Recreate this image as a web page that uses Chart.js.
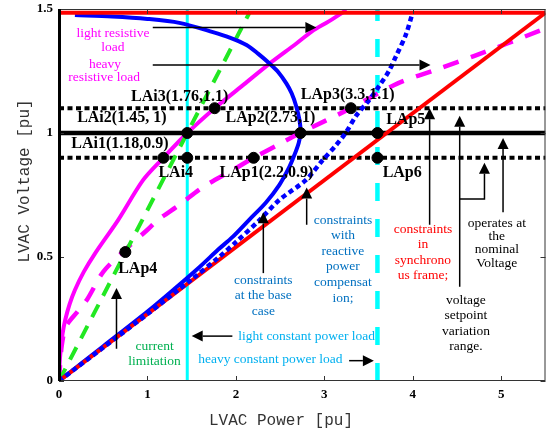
<!DOCTYPE html>
<html>
<head>
<meta charset="utf-8">
<script src="https://cdn.jsdelivr.net/npm/chart.js@4/dist/chart.umd.min.js"></script>
<style>
  html, body { margin: 0; padding: 0; background: #fff; }
</style>
</head>
<body>
<canvas id="myChart" width="552" height="435"></canvas>
<script>
// axis ticks
const xTicks = [0, 1, 2, 3, 4, 5]
const yTicks = [0, 0.5, 1, 1.5]

// blue solid: constraints at the base case (nose curve)
const baseP = [0, 0.5, 1.0, 1.3, 1.59, 1.8, 1.96, 2.15, 2.34, 2.49, 2.6, 2.66, 2.71, 2.73, 2.72, 2.68, 2.63, 2.57, 2.48, 2.38, 2.25, 2.12, 1.93, 1.74, 1.36, 1.0, 0.6, 0.18]
const baseV = [0, 0.14, 0.28, 0.37, 0.46, 0.53, 0.58, 0.65, 0.72, 0.79, 0.86, 0.91, 0.96, 1.0, 1.05, 1.11, 1.16, 1.2, 1.245, 1.28, 1.32, 1.355, 1.385, 1.407, 1.444, 1.46, 1.47, 1.476]

// blue dotted: constraints with reactive power compensation
const compP = [0, 0.5, 1.0, 1.5, 1.81, 2.0, 2.27, 2.49, 2.79, 2.98, 3.13, 3.24, 3.36, 3.5, 3.62, 3.73, 3.81, 3.92, 3.99]
const compV = [0, 0.135, 0.27, 0.41, 0.5, 0.56, 0.65, 0.73, 0.81, 0.89, 0.95, 1.0, 1.07, 1.13, 1.19, 1.25, 1.31, 1.395, 1.476]

// red: constraints in synchronous frame
const syncP = [0, 5.5]
const syncV = [0, 1.485]
const capP = [0, 5.5]
const capV = [1.485, 1.485]

// magenta solid: light resistive load
const lightResP = [0, 0.005, 0.02, 0.04, 0.07, 0.12, 0.18, 0.28, 0.41, 0.67, 0.95, 1.18, 1.45, 1.76, 2.07, 2.38, 2.68, 2.86, 3.05, 3.25]
const lightResV = [0, 0.06, 0.13, 0.19, 0.246, 0.31, 0.367, 0.44, 0.516, 0.65, 0.81, 0.9, 1.0, 1.1, 1.19, 1.28, 1.36, 1.41, 1.45, 1.496]

// magenta dashed: heavy resistive load
const heavyResP = [0, 0.03, 0.08, 0.21, 0.32, 0.5, 0.75, 1.0, 1.12, 1.36, 1.62, 1.96, 2.2, 2.49, 2.73, 3.3, 3.83, 4.3, 4.69, 5.06, 5.45]
const heavyResV = [0, 0.14, 0.22, 0.28, 0.33, 0.44, 0.53, 0.61, 0.65, 0.71, 0.78, 0.85, 0.9, 0.955, 1.0, 1.1, 1.2, 1.26, 1.31, 1.36, 1.415]

// green dashed: current limitation
const currP = [0, 1.45, 2.16]
const currV = [0, 1.0, 1.49]

// constant power loads (vertical) and voltage levels (horizontal)
const lightCPL = 1.45
const heavyCPL = 3.6
const vNominal = 1.0
const vLimits = [0.9, 1.1]

// operating points
const pointNames = ['LAi1', 'LAi2', 'LAi3', 'LAi4', 'LAp1', 'LAp2', 'LAp3', 'LAp4', 'LAp5', 'LAp6']
const pointP = [1.18, 1.45, 1.76, 1.45, 2.2, 2.73, 3.3, 0.75, 3.6, 3.6]
const pointV = [0.9, 1.0, 1.1, 0.9, 0.9, 1.0, 1.1, 0.52, 1.0, 0.9]
const pointLabels = ['LAi1(1.18,0.9)', 'LAi2(1.45, 1)', 'LAi3(1.76,1.1)', 'LAi4', 'LAp1(2.2,0.9)', 'LAp2(2.73,1)', 'LAp3(3.3,1.1)', 'LAp4', 'LAp5', 'LAp6']
const labelAt = [[0.69, 0.956], [0.71, 1.06], [1.364, 1.145], [1.32, 0.839], [2.345, 0.839], [2.39, 1.06], [3.264, 1.153], [0.89, 0.452], [3.92, 1.052], [3.88, 0.839]]

const pts = (xs, ys) => xs.map((v, i) => ({x: v, y: ys[i]}))

// arrows, in data units (last point gets the head)
const arrows = [
  [[1.06, 1.425], [2.91, 1.425]],
  [[1.06, 1.274], [4.2, 1.274]],
  [[0.65, 0.13], [0.65, 0.375]],
  [[2.31, 0.435], [2.31, 0.68]],
  [[2.8, 0.63], [2.8, 0.78]],
  [[4.19, 0.63], [4.19, 1.1]],
  [[4.53, 0.38], [4.53, 1.07]],
  [[4.53, 0.734], [4.81, 0.734], [4.81, 0.88]],
  [[5.02, 0.68], [5.02, 0.98]],
  [[1.96, 0.181], [1.5, 0.181]],
  [[3.28, 0.082], [3.56, 0.082]]
]

// text notes, centre of each line block
const notes = [
  {lines: ['light resistive'], x: 0.61, y: 1.403, color: '#ff00ff'},
  {lines: ['load'], x: 0.61, y: 1.343, color: '#ff00ff'},
  {lines: ['heavy'], x: 0.52, y: 1.278, color: '#ff00ff'},
  {lines: ['resistive load'], x: 0.51, y: 1.222, color: '#ff00ff'},
  {lines: ['current', 'limitation'], x: 1.08, y: 0.109, color: '#00b050'},
  {lines: ['light constant power load'], x: 2.8, y: 0.181, color: '#00b0f0'},
  {lines: ['heavy constant power load'], x: 2.39, y: 0.085, color: '#00b0f0'},
  {lines: ['constraints', 'at the base', 'case'], x: 2.31, y: 0.343, color: '#0070c0'},
  {lines: ['constraints', 'with', 'reactive', 'power', 'compensat', 'ion;'], x: 3.21, y: 0.492, color: '#0070c0'},
  {lines: ['constraints', 'in', 'synchrono', 'us frame;'], x: 4.115, y: 0.518, color: '#ff0000'},
  {lines: ['operates at', 'the', 'nominal', 'Voltage'], x: 4.95, y: 0.556, color: '#000', lh: 13.4},
  {lines: ['voltage', 'setpoint', 'variation', 'range.'], x: 4.6, y: 0.232, color: '#000'}
]

const line = (data, color, width, dash, tension) => ({
  data, borderColor: color, borderWidth: width, borderDash: dash || [],
  borderCapStyle: 'butt', showLine: true, pointRadius: 0, tension: tension || 0, fill: false
})

const annot = {
  id: 'annot',
  afterDatasetsDraw(chart) {
    const {ctx, chartArea: a, scales: {x, y}} = chart
    const px = v => x.getPixelForValue(v), py = v => y.getPixelForValue(v)
    ctx.save()
    // frame with inward ticks
    ctx.strokeStyle = '#333'
    ctx.lineWidth = 1
    ctx.strokeRect(a.left + 0.5, a.top + 0.5, a.right - a.left - 1, a.bottom - a.top - 1)
    ctx.beginPath()
    xTicks.forEach(t => {
      const X = Math.round(px(t)) + 0.5
      ctx.moveTo(X, a.bottom); ctx.lineTo(X, a.bottom - 5)
      ctx.moveTo(X, a.top); ctx.lineTo(X, a.top + 5)
    })
    yTicks.forEach(t => {
      const Y = Math.round(py(t)) + 0.5
      ctx.moveTo(a.left, Y); ctx.lineTo(a.left + 5, Y)
      ctx.moveTo(a.right, Y); ctx.lineTo(a.right - 5, Y)
    })
    ctx.stroke()
    ctx.fillStyle = '#000'
    ctx.fillRect(a.left - 1, a.top, 3, a.bottom - a.top)

    // arrows
    ctx.strokeStyle = '#000'
    ctx.fillStyle = '#000'
    ctx.lineWidth = 1.5
    arrows.forEach(path => {
      const p = path.map(q => [px(q[0]), py(q[1])])
      const n = p.length
      const [x1, y1] = p[n - 2], [x2, y2] = p[n - 1]
      const ang = Math.atan2(y2 - y1, x2 - x1)
      const L = 11, W = 5.5
      ctx.beginPath()
      ctx.moveTo(p[0][0], p[0][1])
      for (let i = 1; i < n - 1; i++) ctx.lineTo(p[i][0], p[i][1])
      ctx.lineTo(x2 - L * Math.cos(ang), y2 - L * Math.sin(ang))
      ctx.stroke()
      ctx.beginPath()
      ctx.moveTo(x2, y2)
      ctx.lineTo(x2 - L * Math.cos(ang) - W * Math.sin(ang), y2 - L * Math.sin(ang) + W * Math.cos(ang))
      ctx.lineTo(x2 - L * Math.cos(ang) + W * Math.sin(ang), y2 - L * Math.sin(ang) - W * Math.cos(ang))
      ctx.closePath()
      ctx.fill()
    })

    // point labels
    ctx.textAlign = 'center'
    ctx.textBaseline = 'middle'
    ctx.font = 'bold 16px "Liberation Serif"'
    ctx.fillStyle = '#000'
    pointLabels.forEach((t, i) => ctx.fillText(t, px(labelAt[i][0]), py(labelAt[i][1])))

    // notes
    ctx.font = '13.5px "Liberation Serif"'
    notes.forEach(nt => {
      ctx.fillStyle = nt.color
      const lh = nt.lh || 15.6
      const y0 = py(nt.y) - (nt.lines.length - 1) * lh / 2
      nt.lines.forEach((s, k) => ctx.fillText(s, px(nt.x), y0 + k * lh))
    })

    // axis titles
    ctx.fillStyle = '#333'
    ctx.font = '16px "Liberation Mono"'
    ctx.fillText('LVAC Power [pu]', 281, 421)
    ctx.translate(25, 181)
    ctx.rotate(-Math.PI / 2)
    ctx.fillText('LVAC Voltage [pu]', 0, 0)
    ctx.restore()
  }
}

const chartRef = document.getElementById('myChart').getContext('2d')
new Chart(chartRef, {
  type: 'scatter',
  data: {
    datasets: [
      // first listed is drawn on top
      {data: pts(pointP, pointV), backgroundColor: '#000', borderColor: '#000', pointRadius: 5.5, showLine: false},
      line(pts(compP, compV), '#0000ff', 4.5, [5, 3.5], 0.3),
      line(pts(syncP, syncV), '#ff0000', 4),
      line(pts(capP, capV), '#ff0000', 4),
      line(pts(baseP, baseV), '#0000ff', 4, null, 0.3),
      line(pts(currP, currV), '#22e822', 4, [14, 10]),
      line(pts(heavyResP, heavyResV), '#ff00ff', 4.5, [16, 13], 0.3),
      line(pts(lightResP, lightResV), '#ff00ff', 4, null, 0.3),
      line([{x: 0, y: vNominal}, {x: 5.5, y: vNominal}], '#000', 4.5),
      line([{x: 0, y: vLimits[0]}, {x: 5.5, y: vLimits[0]}], '#000', 4, [5, 3.5]),
      line([{x: 0, y: vLimits[1]}, {x: 5.5, y: vLimits[1]}], '#000', 4, [5, 3.5]),
      line([{x: heavyCPL, y: 0}, {x: heavyCPL, y: 1.5}], '#00ffff', 4.5, [18, 18]),
      line([{x: lightCPL, y: 0}, {x: lightCPL, y: 1.5}], '#00ffff', 3)
    ]
  },
  options: {
    responsive: false,
    animation: false,
    layout: {padding: {top: 9, right: 5, left: 0, bottom: 0}},
    plugins: {legend: {display: false}, tooltip: {enabled: false}},
    scales: {
      x: {
        type: 'linear', min: 0, max: 5.5,
        afterBuildTicks: s => { s.ticks = xTicks.map(v => ({value: v})) },
        afterFit: s => { s.height = 54; s.paddingLeft = 0; s.paddingRight = 0 },
        grid: {display: false, drawTicks: false},
        border: {display: false},
        ticks: {color: '#000', padding: 6, maxRotation: 0, font: {family: 'Liberation Serif', weight: 'bold', size: 13}, callback: v => String(v)}
      },
      y: {
        type: 'linear', min: 0, max: 1.5,
        afterBuildTicks: s => { s.ticks = yTicks.map(v => ({value: v})) },
        afterFit: s => { s.width = 59; s.paddingTop = 0; s.paddingBottom = 0 },
        grid: {display: false, drawTicks: false},
        border: {display: false},
        ticks: {color: '#000', padding: 6, font: {family: 'Liberation Serif', weight: 'bold', size: 13}, callback: v => String(v)}
      }
    }
  },
  plugins: [annot]
})
</script>
</body>
</html>
